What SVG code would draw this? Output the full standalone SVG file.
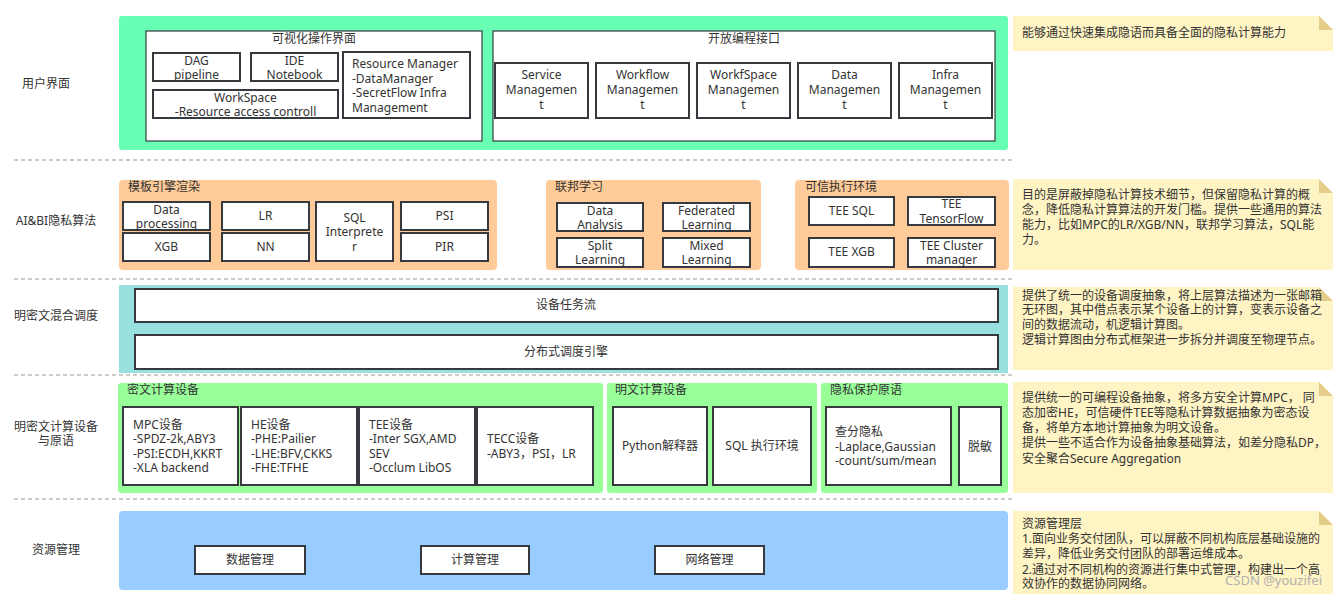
<svg xmlns="http://www.w3.org/2000/svg" width="1338" height="598" viewBox="0 0 1338 598">
<style>
text{font-family:"Noto Sans","Noto Sans CJK SC",sans-serif;font-size:12px;fill:#333}
.c{text-anchor:middle}
.box{fill:#fff;stroke:#36393d;stroke-width:2}
.frame{fill:#fff;stroke:#36393d;stroke-width:1.2}
.sep{stroke:#999;stroke-width:1;stroke-dasharray:4 3;fill:none}
.note{fill:#fff4c3}
.fold{fill:#e3cd88}
.lbl{font-size:12px}
</style>
<rect width="1338" height="598" fill="#fff"/>

<g id="separators">
<line class="sep" x1="14" y1="160" x2="1012" y2="160"/>
<line class="sep" x1="14" y1="279" x2="1012" y2="279"/>
<line class="sep" x1="14" y1="375" x2="1012" y2="375"/>
<line class="sep" x1="14" y1="499" x2="1012" y2="499"/>
</g>

<g id="layer-labels">
<text class="c" x="46" y="88">用户界面</text>
<text class="c" x="56" y="225">AI&amp;BI隐私算法</text>
<text class="c" x="56" y="320">明密文混合调度</text>
<text class="c" x="56" y="431">明密文计算设备</text>
<text class="c" x="56" y="445">与原语</text>
<text class="c" x="56" y="554">资源管理</text>
</g>

<g id="user-interface">
<rect x="119" y="16" width="889" height="134" rx="3" fill="#66ffb3"/>
<g id="visual-ui">
<rect class="frame" x="146" y="31" width="336" height="110"/>
<text class="c" x="314" y="43">可视化操作界面</text>
<g id="dag"><rect class="box" x="153" y="53" width="87" height="28"/><text class="c" x="196.5" y="65">DAG</text><text class="c" x="196.5" y="79">pipeline</text></g>
<g id="ide"><rect class="box" x="251" y="53" width="87" height="28"/><text class="c" x="294.5" y="65">IDE</text><text class="c" x="294.5" y="79">Notebook</text></g>
<g id="workspace"><rect class="box" x="153" y="90" width="185" height="28"/><text class="c" x="245.5" y="102">WorkSpace</text><text class="c" x="245.5" y="116">-Resource access controll</text></g>
<g id="resource-manager"><rect class="box" x="343" y="52" width="127" height="66"/><text x="352" y="68">Resource Manager</text><text x="352" y="83">-DataManager</text><text x="352" y="97">-SecretFlow Infra</text><text x="352" y="112">Management</text></g>
</g>
<g id="open-api">
<rect class="frame" x="493" y="31" width="502" height="110"/>
<text class="c" x="744" y="43">开放编程接口</text>
<g id="service-mgmt"><rect class="box" x="495" y="63" width="93" height="55"/><text class="c" x="541.5" y="79">Service</text><text class="c" x="541.5" y="94">Managemen</text><text class="c" x="541.5" y="109">t</text></g>
<g id="workflow-mgmt"><rect class="box" x="596" y="63" width="93" height="55"/><text class="c" x="642.5" y="79">Workflow</text><text class="c" x="642.5" y="94">Managemen</text><text class="c" x="642.5" y="109">t</text></g>
<g id="workfspace-mgmt"><rect class="box" x="697" y="63" width="93" height="55"/><text class="c" x="743.5" y="79">WorkfSpace</text><text class="c" x="743.5" y="94">Managemen</text><text class="c" x="743.5" y="109">t</text></g>
<g id="data-mgmt"><rect class="box" x="798" y="63" width="93" height="55"/><text class="c" x="844.5" y="79">Data</text><text class="c" x="844.5" y="94">Managemen</text><text class="c" x="844.5" y="109">t</text></g>
<g id="infra-mgmt"><rect class="box" x="899" y="63" width="93" height="55"/><text class="c" x="945.5" y="79">Infra</text><text class="c" x="945.5" y="94">Managemen</text><text class="c" x="945.5" y="109">t</text></g>
</g>
</g>

<g id="ai-bi">
<g id="template-engine">
<rect x="119" y="180" width="378" height="90" rx="4" fill="#ffcc99"/>
<text x="128" y="191">模板引擎渲染</text>
<g id="data-processing"><rect class="box" x="123" y="202" width="87" height="28"/><text class="c" x="166.5" y="214">Data</text><text class="c" x="166.5" y="228">processing</text></g>
<g id="xgb"><rect class="box" x="123" y="233" width="87" height="28"/><text class="c" x="166.5" y="251">XGB</text></g>
<g id="lr"><rect class="box" x="222" y="202" width="87" height="28"/><text class="c" x="265.5" y="220">LR</text></g>
<g id="nn"><rect class="box" x="222" y="233" width="87" height="28"/><text class="c" x="265.5" y="251">NN</text></g>
<g id="sql-interpreter"><rect class="box" x="316" y="202" width="77" height="59"/><text class="c" x="354.5" y="222">SQL</text><text class="c" x="354.5" y="236">Interprete</text><text class="c" x="354.5" y="251">r</text></g>
<g id="psi"><rect class="box" x="401" y="202" width="87" height="28"/><text class="c" x="444.5" y="220">PSI</text></g>
<g id="pir"><rect class="box" x="401" y="233" width="87" height="28"/><text class="c" x="444.5" y="251">PIR</text></g>
</g>
<g id="federated">
<rect x="546" y="180" width="215" height="90" rx="4" fill="#ffcc99"/>
<text x="555" y="191">联邦学习</text>
<g id="data-analysis"><rect class="box" x="557" y="203" width="86" height="28"/><text class="c" x="600" y="215">Data</text><text class="c" x="600" y="229">Analysis</text></g>
<g id="federated-learning"><rect class="box" x="663" y="203" width="87" height="28"/><text class="c" x="706.5" y="215">Federated</text><text class="c" x="706.5" y="229">Learning</text></g>
<g id="split-learning"><rect class="box" x="557" y="238" width="86" height="29"/><text class="c" x="600" y="250">Split</text><text class="c" x="600" y="264">Learning</text></g>
<g id="mixed-learning"><rect class="box" x="663" y="238" width="87" height="29"/><text class="c" x="706.5" y="250">Mixed</text><text class="c" x="706.5" y="264">Learning</text></g>
</g>
<g id="tee-env">
<rect x="795" y="180" width="214" height="90" rx="4" fill="#ffcc99"/>
<text x="805" y="191">可信执行环境</text>
<g id="tee-sql"><rect class="box" x="809" y="197" width="85" height="28"/><text class="c" x="851.5" y="215">TEE SQL</text></g>
<g id="tee-tf"><rect class="box" x="908" y="197" width="87" height="28"/><text class="c" x="951.5" y="208">TEE</text><text class="c" x="951.5" y="223">TensorFlow</text></g>
<g id="tee-xgb"><rect class="box" x="809" y="238" width="85" height="29"/><text class="c" x="851.5" y="256">TEE XGB</text></g>
<g id="tee-cluster"><rect class="box" x="908" y="238" width="87" height="29"/><text class="c" x="951.5" y="250">TEE Cluster</text><text class="c" x="951.5" y="264">manager</text></g>
</g>
</g>

<g id="scheduling">
<rect x="119" y="285" width="889" height="88" fill="#99e0e0"/>
<g id="device-flow"><rect class="box" x="135" y="289" width="863" height="33"/><text class="c" x="566" y="309">设备任务流</text></g>
<g id="dist-engine"><rect class="box" x="135" y="335" width="863" height="34"/><text class="c" x="566" y="356">分布式调度引擎</text></g>
</g>

<g id="compute">
<g id="cipher-devices">
<rect x="118" y="383" width="485" height="110" rx="3" fill="#99ff99"/>
<text x="127" y="394">密文计算设备</text>
<g id="mpc"><rect class="box" x="123" y="407" width="115" height="78"/><text x="133" y="429">MPC设备</text><text x="133" y="443">-SPDZ-2k,ABY3</text><text x="133" y="458">-PSI:ECDH,KKRT</text><text x="133" y="472">-XLA backend</text></g>
<g id="he"><rect class="box" x="241" y="407" width="116" height="78"/><text x="251" y="429">HE设备</text><text x="251" y="443">-PHE:Pailier</text><text x="251" y="458">-LHE:BFV,CKKS</text><text x="251" y="472">-FHE:TFHE</text></g>
<g id="tee-dev"><rect class="box" x="359" y="407" width="116" height="78"/><text x="369" y="429">TEE设备</text><text x="369" y="443">-Inter SGX,AMD</text><text x="369" y="458">SEV</text><text x="369" y="472">-Occlum LibOS</text></g>
<g id="tecc"><rect class="box" x="477" y="407" width="116" height="78"/><text x="487" y="443">TECC设备</text><text x="487" y="458">-ABY3，PSI，LR</text></g>
</g>
<g id="plain-devices">
<rect x="607" y="383" width="210" height="110" rx="3" fill="#99ff99"/>
<text x="615" y="394">明文计算设备</text>
<g id="python"><rect class="box" x="613" y="407" width="94" height="78"/><text class="c" x="660" y="450">Python解释器</text></g>
<g id="sql-env"><rect class="box" x="713" y="407" width="98" height="78"/><text class="c" x="762" y="450">SQL 执行环境</text></g>
</g>
<g id="privacy-primitives">
<rect x="821" y="383" width="187" height="110" rx="3" fill="#99ff99"/>
<text x="830" y="394">隐私保护原语</text>
<g id="dp"><rect class="box" x="826" y="407" width="125" height="78"/><text x="835" y="436">查分隐私</text><text x="835" y="451">-Laplace,Gaussian</text><text x="835" y="465">-count/sum/mean</text></g>
<g id="desens"><rect class="box" x="959" y="407" width="42" height="78"/><text class="c" x="980" y="451">脱敏</text></g>
</g>
</g>

<g id="resource">
<rect x="119" y="511" width="889" height="79" rx="4" fill="#99ccff"/>
<g id="res-data"><rect class="box" x="195" y="546" width="110" height="28"/><text class="c" x="250" y="564">数据管理</text></g>
<g id="res-compute"><rect class="box" x="421" y="546" width="108" height="28"/><text class="c" x="475" y="564">计算管理</text></g>
<g id="res-network"><rect class="box" x="655" y="546" width="109" height="28"/><text class="c" x="709.5" y="564">网络管理</text></g>
</g>

<g id="notes">
<g id="note1"><path class="note" d="M1013 16 H1319 L1333 30 V51 H1013 Z"/><path class="fold" d="M1319 16 L1333 30 H1319 Z"/>
<text x="1022" y="37">能够通过快速集成隐语而具备全面的隐私计算能力</text></g>
<g id="note2"><path class="note" d="M1013 179 H1319 L1333 193 V270 H1013 Z"/><path class="fold" d="M1319 179 L1333 193 H1319 Z"/>
<text x="1022" y="199">目的是屏蔽掉隐私计算技术细节，但保留隐私计算的概</text>
<text x="1022" y="214">念，降低隐私计算算法的开发门槛。提供一些通用的算法</text>
<text x="1022" y="229">能力，比如MPC的LR/XGB/NN，联邦学习算法，SQL能</text>
<text x="1022" y="244">力。</text></g>
<g id="note3"><path class="note" d="M1013 287 H1319 L1333 301 V370 H1013 Z"/><path class="fold" d="M1319 287 L1333 301 H1319 Z"/>
<text x="1022" y="300">提供了统一的设备调度抽象，将上层算法描述为一张邮箱</text>
<text x="1022" y="314">无环图，其中借点表示某个设备上的计算，变表示设备之</text>
<text x="1022" y="329">间的数据流动，机逻辑计算图。</text>
<text x="1022" y="344">逻辑计算图由分布式框架进一步拆分并调度至物理节点。</text></g>
<g id="note4"><path class="note" d="M1013 382 H1319 L1333 396 V493 H1013 Z"/><path class="fold" d="M1319 382 L1333 396 H1319 Z"/>
<text x="1022" y="402">提供统一的可编程设备抽象，将多方安全计算MPC， 同</text>
<text x="1022" y="417">态加密HE，可信硬件TEE等隐私计算数据抽象为密态设</text>
<text x="1022" y="432">备，将单方本地计算抽象为明文设备。</text>
<text x="1022" y="447">提供一些不适合作为设备抽象基础算法，如差分隐私DP，</text>
<text x="1022" y="463">安全聚合Secure Aggregation</text></g>
<g id="note5"><path class="note" d="M1013 511 H1319 L1333 525 V594 H1013 Z"/><path class="fold" d="M1319 511 L1333 525 H1319 Z"/>
<text x="1022" y="528">资源管理层</text>
<text x="1022" y="543">1.面向业务交付团队，可以屏蔽不同机构底层基础设施的</text>
<text x="1022" y="558">差异，降低业务交付团队的部署运维成本。</text>
<text x="1022" y="574">2.通过对不同机构的资源进行集中式管理，构建出一个高</text>
<text x="1022" y="588">效协作的数据协同网络。</text>
<text x="1322" y="585" style="text-anchor:end;fill:#b0b0b0;font-size:13px">CSDN @youzifei</text></g>
</g>
</svg>
